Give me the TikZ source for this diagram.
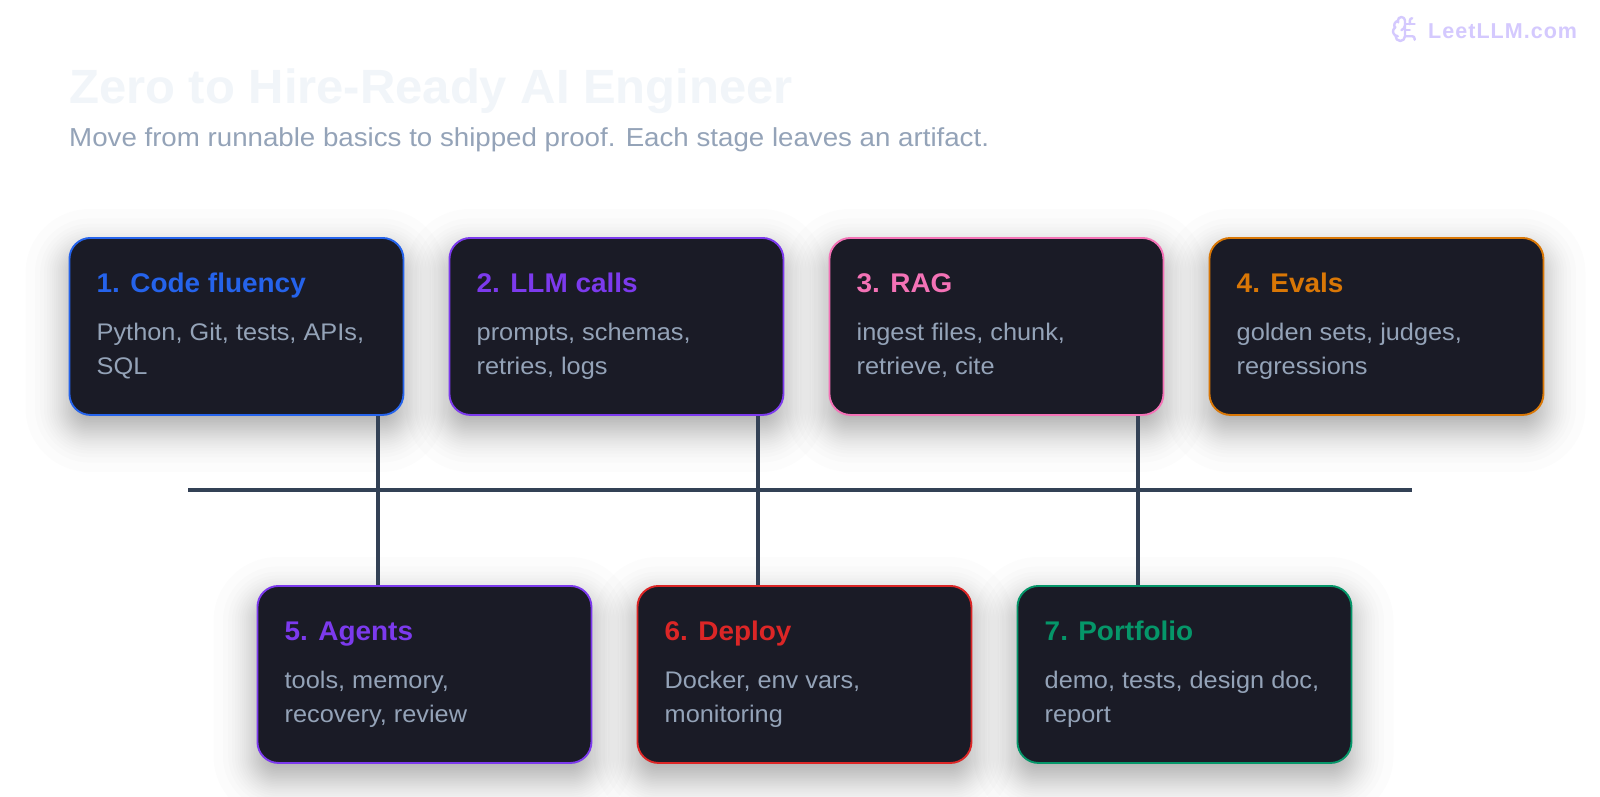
\documentclass[tikz,border=0pt]{standalone}
\usepackage{fontspec}
\setmainfont{Liberation Sans}
\newfontfamily\titleface[FakeStretch=1.02]{Liberation Sans}
\newfontfamily\subface[FakeStretch=1.065]{Liberation Sans}
\newfontfamily\headface[FakeStretch=1.035]{Liberation Sans}
\newfontfamily\bodyface[FakeStretch=1.055]{Liberation Sans}
\usetikzlibrary{backgrounds}
\pgfdeclarelayer{shadowlayer}
\pgfsetlayers{shadowlayer,background,main}
\definecolor{cardfill}{HTML}{1A1B26}
\definecolor{connline}{HTML}{334155}
\definecolor{bodygrey}{HTML}{94A3B8}
\definecolor{headpale}{HTML}{F1F5F9}
\definecolor{logopale}{HTML}{D4C9FE}
\definecolor{cblue}{HTML}{2563EB}
\definecolor{cviolet}{HTML}{7C3AED}
\definecolor{cpink}{HTML}{F472B6}
\definecolor{camber}{HTML}{D97706}
\definecolor{cred}{HTML}{DC2626}
\definecolor{cgreen}{HTML}{059669}
\tikzset{
  cardbox/.style={draw=#1,fill=cardfill,line width=1.9pt,rounded corners=21pt,minimum width=334pt,minimum height=177pt,inner sep=0pt,anchor=north west},
  cardhead/.style={text=#1,anchor=base west,inner sep=0pt,font=\headface\bfseries\fontsize{27}{32}\selectfont},
  cardtext/.style={text=bodygrey,anchor=base west,inner sep=0pt,font=\bodyface\fontsize{24}{34}\selectfont},
  connector/.style={draw=connline,line width=3.6pt},
  logoline/.style={draw=logopale,line width=2.4pt,line cap=round,line join=round}
}
\newcommand{\stagecard}[7]{%
  \begin{pgfonlayer}{shadowlayer}
    \foreach \g in {-34.4,-26.9,-22.7,-19.7,-17.3,-15.2,-13.3,-11.7,-9.9,-8.5,-7.2,-5.8,-4.5,-3.2,-1.9,-0.6,0.6,1.9,3.2,4.5,5.8,7.2,8.5,9.9,11.7,13.3,15.2,17.3,19.7,22.7,26.9,34.4}{
      \pgfmathsetmacro{\e}{1.25*\g}
      \pgfmathsetmacro{\rr}{max(2,21+\e)}
      \fill[black,opacity=.0125,rounded corners=\rr pt] (#2-\e,#3+15-\e) rectangle (#2+334+\e,#3+192+\e);
    }
  \end{pgfonlayer}
  \node[cardbox=#4] (#1) at (#2,#3) {};
  \node[cardhead=#4] (#1h) at (#2+28,#3+55) {#5};
  \node[cardtext] (#1a) at (#2+28,#3+103) {#6};
  \node[cardtext] (#1b) at (#2+28,#3+137) {#7};
}
\begin{document}
\begin{tikzpicture}[x=1pt,y=-1pt]
\useasboundingbox (0,0) rectangle (1600,796);
\begin{pgfonlayer}{shadowlayer}
\fill[white] (0,0) rectangle (1600,796);
\end{pgfonlayer}

\node[anchor=base west,inner sep=0pt,text=headpale,font=\titleface\bfseries\fontsize{48}{58}\selectfont] (maintitle) at (69,103) {Zero to Hire-Ready AI Engineer};
\node[anchor=base west,inner sep=0pt,text=bodygrey,font=\subface\fontsize{26}{30}\selectfont] (subtitle) at (69,146) {Move from runnable basics to shipped proof. Each stage leaves an artifact.};

\stagecard{c1}{68.5}{237}{cblue}{1. Code fluency}{Python, Git, tests, APIs,}{SQL}
\stagecard{c2}{448.5}{237}{cviolet}{2. LLM calls}{prompts, schemas,}{retries, logs}
\stagecard{c3}{828.5}{237}{cpink}{3. RAG}{ingest files, chunk,}{retrieve, cite}
\stagecard{c4}{1208.5}{237}{camber}{4. Evals}{golden sets, judges,}{regressions}
\stagecard{c5}{256.5}{585}{cviolet}{5. Agents}{tools, memory,}{recovery, review}
\stagecard{c6}{636.5}{585}{cred}{6. Deploy}{Docker, env vars,}{monitoring}
\stagecard{c7}{1016.5}{585}{cgreen}{7. Portfolio}{demo, tests, design doc,}{report}

\coordinate (j1) at (378,490);
\coordinate (j2) at (758,490);
\coordinate (j3) at (1138,490);
\coordinate (busleft) at (188,490);
\coordinate (busright) at (1412,490);
\begin{scope}[on background layer]
  \draw[connector] (busleft) -- (busright);
  \draw[connector] (c1.south -| j1) -- (c5.north -| j1);
  \draw[connector] (c2.south -| j2) -- (c6.north -| j2);
  \draw[connector] (c3.south -| j3) -- (c7.north -| j3);
\end{scope}

\begin{scope}[shift={(1390.6,14.6)},scale=1.2]
  \draw[logoline] (12,5) .. controls (12,3.34) and (10.66,2) .. (9,2) .. controls (7.34,2) and (5.96,3.4) .. (6.003,5.125) .. controls (3.3,6.24) and (2.45,8.15) .. (3.477,10.896) .. controls (1.335,13.29) and (1.52,15.48) .. (4.033,17.484) .. controls (3.8,20) and (5.8,22) .. (8,22) .. controls (10.2,22) and (12,20.2) .. (12,18) -- cycle;
  \draw[logoline] (9,13) .. controls (10.7,12.2) and (11.9,10.7) .. (12,9);
  \draw[logoline] (6.003,5.125) .. controls (6.05,5.6) and (6.2,6.1) .. (6.401,6.5);
  \draw[logoline] (3.477,10.896) -- (4.062,10.5);
  \draw[logoline] (6,18) -- (4.033,17.484);
  \draw[logoline] (12,13) -- (16,13);
  \draw[logoline] (12,18) -- (18,18) .. controls (19.1,18) and (20,18.9) .. (20,20) -- (20,21);
  \draw[logoline] (12,8) -- (20,8);
  \draw[logoline] (16,8) -- (16,5) .. controls (16,3.9) and (16.9,3) .. (18,3);
\end{scope}
\node[anchor=base west,inner sep=0pt,text=logopale,font=\bfseries\fontsize{21.5}{25}\selectfont] (logotext) at (1428,38) {\addfontfeature{LetterSpace=4.8}LeetLLM.com};
\end{tikzpicture}
\end{document}
